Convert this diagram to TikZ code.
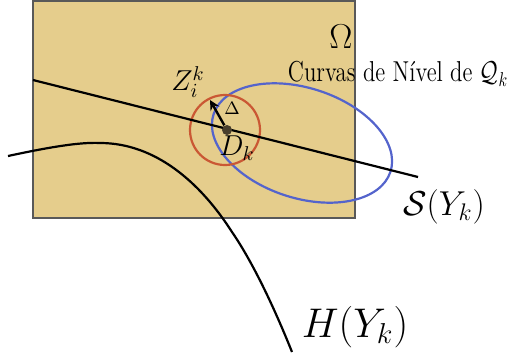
\documentclass[tikz,border=0pt]{standalone}
\usepackage{amsmath,amssymb}
\usepackage{xcolor}
\usetikzlibrary{arrows, positioning, calc}

\definecolor{omegafill}{RGB}{229,205,140}
\definecolor{levelblue}{RGB}{84,100,204}
\definecolor{ballred}{RGB}{202,88,52}
\definecolor{dotgray}{RGB}{72,62,44}

\begin{document}
\begin{tikzpicture}[
    x=0.5pt, y=-0.5pt,
    region/.style = {draw=black!65, fill=omegafill, thick},
    curve/.style = {black, line width=1.1pt},
    level/.style = {draw=levelblue, line width=1.1pt},
    ball/.style = {draw=ballred, line width=1.1pt},
    center/.style = {circle, fill=dotgray, inner sep=0pt, minimum size=5pt},
    arrow/.style = {line width=1.2pt, ->, >=stealth},
    tag/.style = {inner sep=0.5pt}
]
\useasboundingbox (0,0) rectangle (508,359);

% Domain
\draw [region] (33,1) rectangle (355,218);
\node (omega) at (341,37) {\LARGE $\Omega$};

% Level curves and trust region
\draw [level, rotate around={-18:(302,143)}] (302,143) ellipse [x radius=93, y radius=55];
\draw [ball] (225,130) circle [radius=35];

% Curves
\draw [curve] (33,80) coordinate (sstart) -- (418,177) coordinate (send);
\draw [curve] (8,156) .. controls (50,147) and (80,142) .. (100,143)
    .. controls (155,143) and (200,182) .. (232,232)
    .. controls (254,264) and (276,312) .. (292,352);

% Points
\node (dk) [center] at (227,130) {};
\coordinate (zik) at (210,100);
\draw [arrow] (dk) -- (zik);

% Labels
\node (zlab) [tag] at (188,82) {\Large $Z_i^k$};
\node (delta) [tag] at (232,108) {\small $\Delta$};
\node (dlab) [tag] at (237,148) {\Large $D_k$};
\node (curvas) at (398,74) {\Large\scalebox{0.79}[1]{Curvas de N\'ivel de $\mathcal{Q}_k$}};
\node (slab) at (444,207) {\LARGE $\mathcal{S}(Y_k)$};
\node (hlab) at (355,327) {\huge $H(Y_k)$};

\end{tikzpicture}
\end{document}
